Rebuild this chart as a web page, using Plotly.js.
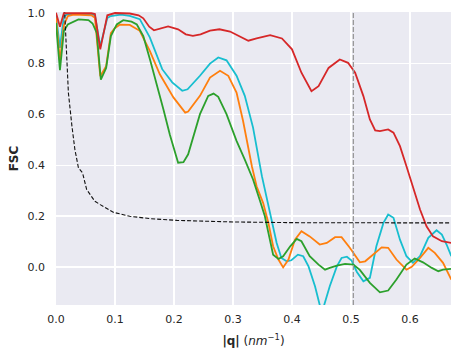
<!DOCTYPE html>
<html>
<head>
<meta charset="utf-8">
<script src="https://cdn.plot.ly/plotly-3.0.1.min.js"></script>
<style>
  html, body { margin: 0; padding: 0; background: #fff; }
  #chart { width: 460px; height: 356px; }
</style>
</head>
<body>
<div id="chart"></div>
<script>
// FSC curves (q in nm^-1)
const qRed = [0, 0.0067, 0.0133, 0.03, 0.06, 0.066, 0.075, 0.087, 0.1, 0.125, 0.14, 0.148, 0.158, 0.166, 0.178, 0.19, 0.207, 0.22, 0.232, 0.245, 0.261, 0.277, 0.295, 0.312, 0.326, 0.34, 0.363, 0.383, 0.4, 0.416, 0.433, 0.445, 0.462, 0.481, 0.495, 0.507, 0.521, 0.532, 0.541, 0.549, 0.563, 0.572, 0.583, 0.594, 0.606, 0.617, 0.628, 0.639, 0.654, 0.67];
const fscRed = [1.0, 0.945, 0.998, 0.999, 0.998, 0.995, 0.856, 0.99, 0.999, 0.997, 0.99, 0.978, 0.945, 0.931, 0.938, 0.946, 0.935, 0.915, 0.909, 0.915, 0.93, 0.935, 0.926, 0.906, 0.89, 0.899, 0.912, 0.899, 0.856, 0.764, 0.691, 0.711, 0.783, 0.816, 0.803, 0.764, 0.672, 0.58, 0.537, 0.534, 0.541, 0.528, 0.475, 0.396, 0.304, 0.226, 0.16, 0.12, 0.101, 0.094];

const qCyan = [0, 0.0067, 0.0133, 0.02, 0.06, 0.066, 0.075, 0.087, 0.093, 0.11, 0.125, 0.142, 0.159, 0.18, 0.197, 0.214, 0.223, 0.244, 0.261, 0.275, 0.289, 0.306, 0.32, 0.334, 0.349, 0.363, 0.374, 0.382, 0.391, 0.399, 0.41, 0.419, 0.428, 0.439, 0.447, 0.452, 0.464, 0.476, 0.484, 0.493, 0.501, 0.51, 0.521, 0.532, 0.543, 0.555, 0.563, 0.572, 0.583, 0.594, 0.605, 0.617, 0.631, 0.645, 0.654, 0.662, 0.67];
const fscCyan = [0.99, 0.862, 0.985, 0.995, 0.995, 0.99, 0.868, 0.98, 0.987, 0.993, 0.988, 0.975, 0.903, 0.778, 0.726, 0.693, 0.699, 0.752, 0.8, 0.824, 0.813, 0.752, 0.673, 0.548, 0.357, 0.213, 0.094, 0.035, 0.022, 0.026, 0.048, 0.042, 0.002, -0.076, -0.15, -0.17, -0.076, 0.002, 0.035, 0.04, 0.025, -0.02, -0.057, -0.043, 0.081, 0.173, 0.206, 0.193, 0.107, 0.042, 0.016, 0.042, 0.114, 0.144, 0.127, 0.088, 0.042];

const qOrange = [0, 0.0067, 0.0133, 0.02, 0.03, 0.06, 0.066, 0.075, 0.085, 0.093, 0.1, 0.108, 0.125, 0.142, 0.159, 0.176, 0.199, 0.219, 0.224, 0.244, 0.261, 0.278, 0.292, 0.306, 0.317, 0.325, 0.332, 0.34, 0.351, 0.36, 0.368, 0.377, 0.385, 0.394, 0.405, 0.416, 0.43, 0.447, 0.459, 0.473, 0.484, 0.498, 0.515, 0.524, 0.538, 0.552, 0.563, 0.577, 0.594, 0.603, 0.617, 0.631, 0.642, 0.656, 0.67];
const fscOrange = [0.98, 0.81, 0.95, 0.987, 0.993, 0.99, 0.98, 0.75, 0.79, 0.92, 0.94, 0.953, 0.952, 0.929, 0.85, 0.758, 0.667, 0.607, 0.611, 0.673, 0.745, 0.772, 0.752, 0.686, 0.575, 0.48, 0.396, 0.317, 0.252, 0.173, 0.081, 0.029, -0.002, 0.029, 0.107, 0.14, 0.12, 0.088, 0.094, 0.117, 0.117, 0.075, 0.018, 0.022, 0.048, 0.077, 0.075, 0.029, -0.011, 0.0, 0.035, 0.075, 0.055, 0.016, -0.05];

const qGreen = [0, 0.0067, 0.0133, 0.02, 0.038, 0.055, 0.062, 0.069, 0.076, 0.085, 0.093, 0.103, 0.114, 0.128, 0.137, 0.148, 0.16, 0.171, 0.182, 0.193, 0.207, 0.216, 0.224, 0.244, 0.258, 0.267, 0.275, 0.289, 0.306, 0.32, 0.334, 0.346, 0.354, 0.36, 0.368, 0.377, 0.385, 0.397, 0.408, 0.416, 0.43, 0.445, 0.456, 0.464, 0.476, 0.49, 0.504, 0.515, 0.532, 0.549, 0.563, 0.577, 0.594, 0.608, 0.622, 0.637, 0.648, 0.656, 0.67];
const fscGreen = [0.96, 0.774, 0.928, 0.954, 0.974, 0.971, 0.958, 0.921, 0.737, 0.783, 0.908, 0.954, 0.971, 0.965, 0.954, 0.908, 0.81, 0.72, 0.62, 0.52, 0.41, 0.412, 0.443, 0.601, 0.673, 0.682, 0.669, 0.601, 0.496, 0.422, 0.344, 0.258, 0.199, 0.134, 0.048, 0.031, 0.042, 0.081, 0.11, 0.101, 0.042, 0.009, -0.011, -0.004, 0.005, 0.012, 0.009, -0.012, -0.063, -0.1, -0.093, -0.05, 0.009, 0.033, 0.018, -0.004, -0.017, -0.011, -0.008];

// half-bit style threshold curve
const qThr = [0.014, 0.018, 0.021, 0.027, 0.032, 0.038, 0.045, 0.052, 0.066, 0.075, 0.097, 0.125, 0.159, 0.205, 0.295, 0.4, 0.498, 0.67];
const fscThr = [1.04, 0.816, 0.685, 0.554, 0.462, 0.39, 0.37, 0.304, 0.258, 0.245, 0.215, 0.199, 0.19, 0.183, 0.177, 0.174, 0.173, 0.173];

const qCutoff = 0.504;

const FONT = 'DejaVu Sans, sans-serif';
const TEXT = '#262626';

function fscLine(x, y, color) {
    return { x: x, y: y, type: 'scatter', mode: 'lines', line: { color: color, width: 1.8 }, hoverinfo: 'skip' };
}

const traces = [
    fscLine(qCyan, fscCyan, '#17becf'),
    fscLine(qOrange, fscOrange, '#ff7f0e'),
    fscLine(qGreen, fscGreen, '#2ca02c'),
    fscLine(qRed, fscRed, '#d62728'),
    { x: qThr, y: fscThr, type: 'scatter', mode: 'lines', line: { color: '#111', width: 1.1, dash: '4px,2px' }, hoverinfo: 'skip' }
];

const layout = {
    width: 460,
    height: 356,
    margin: { l: 56, r: 9, t: 12, b: 51 },
    paper_bgcolor: '#ffffff',
    plot_bgcolor: '#eaeaf2',
    showlegend: false,
    font: { family: FONT, size: 11, color: TEXT },
    xaxis: {
        range: [0, 0.6695],
        dtick: 0.1,
        tickformat: '.1f',
        showgrid: true,
        gridcolor: '#ffffff',
        gridwidth: 1.3,
        zeroline: false,
        showline: false,
        ticks: '',
        ticklabelstandoff: 6,
        tickfont: { family: FONT, size: 11, color: TEXT },
        title: { text: '<b>|q|</b> (<i>nm</i><sup>−1</sup>)', font: { family: FONT, size: 12, color: TEXT }, standoff: 11 }
    },
    yaxis: {
        range: [-0.15, 1.003],
        dtick: 0.2,
        tick0: 0,
        tickformat: '.1f',
        showgrid: true,
        gridcolor: '#ffffff',
        gridwidth: 1.3,
        zeroline: false,
        showline: false,
        ticks: '',
        ticklabelstandoff: 10,
        tickfont: { family: FONT, size: 11, color: TEXT },
        title: { text: '<b>FSC</b>', font: { family: FONT, size: 12, color: TEXT }, standoff: 6 }
    },
    shapes: [
        { type: 'line', xref: 'x', yref: 'paper', x0: qCutoff, x1: qCutoff, y0: 0, y1: 1,
          line: { color: '#999999', width: 1.3, dash: '5px,2px' } }
    ]
};

Plotly.newPlot('chart', traces, layout, { staticPlot: true, displayModeBar: false });
</script>
</body>
</html>
